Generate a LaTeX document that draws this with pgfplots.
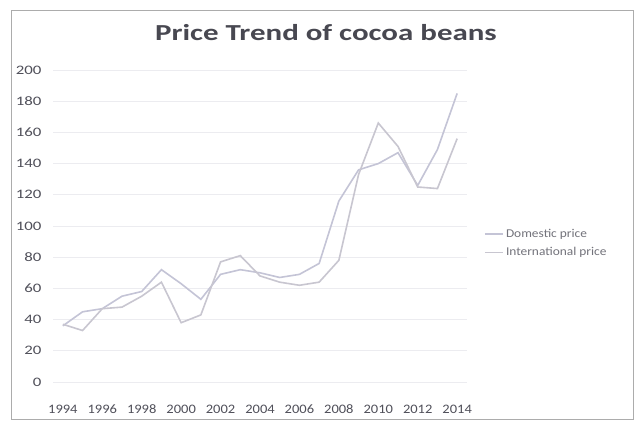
\documentclass[border=0pt]{standalone}
\usepackage{pgfplots}
\pgfplotsset{compat=1.18}
\usepackage{fontspec}
\setmainfont{Carlito}
\definecolor{domc}{RGB}{196,196,214}
\definecolor{intc}{RGB}{200,198,208}
\definecolor{txtc}{RGB}{80,80,90}
\definecolor{gridc}{RGB}{236,236,240}
\begin{document}
\begin{tikzpicture}
\useasboundingbox (0,0) rectangle (636bp,423bp);
\fill[white] (0,0) rectangle (636bp,423bp);
\draw[gray!65, line width=1bp] (11bp,3bp) rectangle (633bp,412bp);
\node[font=\fontsize{23}{26}\selectfont\bfseries, text=txtc!90!black, xscale=1.35] at (326bp,390bp) {Price Trend of cocoa beans};
\begin{axis}[
  at={(53bp,41bp)}, anchor=south west,
  scale only axis, width=414bp, height=312bp,
  xmin=1993.5, xmax=2014.5, ymin=0, ymax=200,
  xtick={1994,1996,...,2014}, ytick={0,20,...,200},
  axis line style={draw=none}, tick style={draw=none},
  ymajorgrids, major grid style={gridc, line width=0.8bp},
  /pgf/number format/assume math mode=true,
  /pgf/number format/1000 sep={},
  xticklabel style={font=\fontsize{13}{15}\selectfont, text=txtc, yshift=-19bp, xscale=1.12, text height=9bp, text depth=0bp},
  yticklabel style={font=\fontsize{13}{15}\selectfont, text=txtc, xshift=-7bp, xscale=1.3},
  legend style={at={(1.041,0.445)}, anchor=west, draw=none, fill=none,
    font=\fontsize{12}{14}\selectfont, text=txtc!80, row sep=5bp, inner sep=0pt,
    nodes={xscale=1.12}},
  legend cell align=left,
  legend image code/.code={\draw[#1] (0bp,0bp) -- (18bp,0bp);},
]
\addplot[domc, line width=1.6bp] coordinates {
(1994,36) (1995,45) (1996,47) (1997,55) (1998,58) (1999,72) (2000,63)
(2001,53) (2002,69) (2003,72) (2004,70) (2005,67) (2006,69) (2007,76)
(2008,116) (2009,136) (2010,140) (2011,147) (2012,126) (2013,149) (2014,185)};
\addlegendentry{Domestic price}
\addplot[intc, line width=1.6bp] coordinates {
(1994,37) (1995,33) (1996,47) (1997,48) (1998,55) (1999,64) (2000,38)
(2001,43) (2002,77) (2003,81) (2004,68) (2005,64) (2006,62) (2007,64)
(2008,78) (2009,133) (2010,166) (2011,151) (2012,125) (2013,124) (2014,156)};
\addlegendentry{International price}
\end{axis}
\end{tikzpicture}
\end{document}
